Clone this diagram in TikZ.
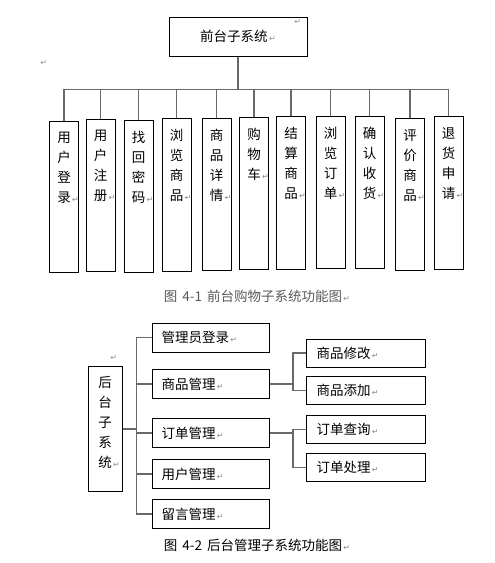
\documentclass[tikz,border=0pt]{standalone}
\usepackage{fontspec}
\setmainfont{Noto Sans CJK SC}
\newfontfamily\symfont{DejaVu Sans}
\usepackage{tikz}
\usetikzlibrary{positioning}
\definecolor{linkgray}{RGB}{105,105,105}
\definecolor{markgray}{RGB}{140,140,140}
\newcommand{\rmark}{{\symfont\fontsize{8}{8}\selectfont\color{markgray}\,↵}}
\newcommand{\hang}{\rlap{\rmark}}
\newcommand{\gap}{\hspace{5pt}}

\begin{document}
\begin{tikzpicture}[x=1pt,y=-1pt,font=\fontsize{13.5}{20}\selectfont]
\tikzset{box/.style={draw=black,line width=1pt,inner sep=0pt},
  col/.style={box,minimum width=29,anchor=north},
  vtxt/.style={inner sep=0pt,align=center},
  item/.style={box,anchor=west,inner xsep=9pt,align=left},
  link/.style={draw=linkgray,line width=1.5pt},
  figcap/.style={font=\fontsize{13.5}{16}\selectfont}}
\useasboundingbox (0,0) rectangle (495,563);
% front-end subsystem
\node[box,minimum width=138,minimum height=39] (front) at (238,36.5) {前台子系统\rmark};
\node (mk1) at (297,22) {\rmark};
\node (mk2) at (43,63) {\rmark};
\foreach \i/\cx/\yt/\yb/\txt in {1/64/121/272/{用\\户\\登\\录},2/100.5/119/271/{用\\户\\注\\册},
  3/138.5/120/272/{找\\回\\密\\码},4/176.5/118/271/{浏\\览\\商\\品},5/216.5/118/270/{商\\品\\详\\情},
  6/254/117/269/{购\\物\\车},7/291/116/269/{结\\算\\商\\品},8/330.5/116/268/{浏\\览\\订\\单},
  9/369.5/116/268/{确\\认\\收\\货},10/410/118/270/{评\\价\\商\\品},11/448.5/116/269/{退\\货\\申\\请}}{
  \node[col,minimum height=\yb-\yt] (c\i) at (\cx,\yt) {};
  \node[vtxt,below=11pt of c\i.north] (t\i) {\txt\hang};
  \draw[link] (front.south) -- ++(0,33) -| (c\i.north);
}
\node[figcap,text=black!65] (cap1) at (257,296) {图\gap 4-1\gap 前台购物子系统功能图\rmark};
% back-end subsystem
\node[box,minimum width=34,minimum height=125,anchor=north] (back) at (105,366) {};
\node[vtxt,below=10pt of back.north] (tb) {后\\台\\子\\系\\统\hang};
\node (mk3) at (113,358) {\rmark};
\foreach \i/\ym/\txt in {1/337.5/管理员登录,2/384/商品管理,3/433/订单管理,4/474/用户管理,5/514/留言管理}{
  \node[item,text width=99,minimum height=29] (m\i) at (152,\ym) {\txt\rmark};
  \draw[link] (back.east) -- ++(14,0) |- (m\i.west);
}
\foreach \i/\ym/\txt in {1/353/商品修改,2/390.5/商品添加,3/429.5/订单查询,4/467.5/订单处理}{
  \node[item,text width=99,inner xsep=10pt,minimum height=28] (s\i) at (306,\ym) {\txt\rmark};
}
\foreach \a/\b in {m2/s1,m2/s2,m3/s3,m3/s4} \draw[link] (\a.east) -- ++(23,0) |- (\b.west);
\node[figcap] (cap2) at (257,545) {图\gap 4-2\gap 后台管理子系统功能图\rmark};
\end{tikzpicture}
\end{document}
